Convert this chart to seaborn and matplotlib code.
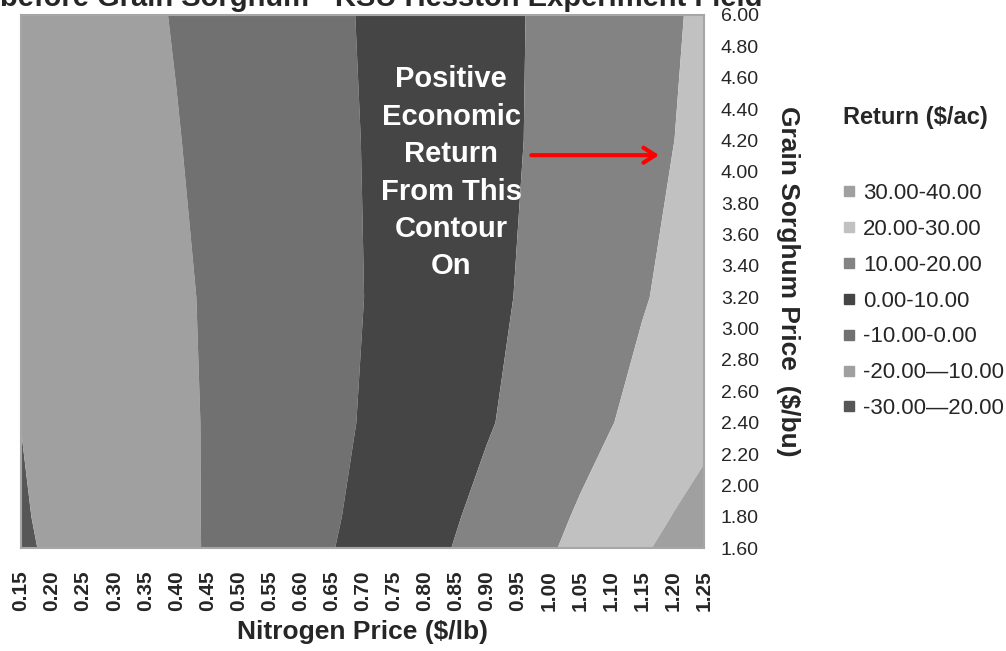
import numpy as np
import seaborn as sns
import matplotlib.pyplot as plt
from matplotlib.lines import Line2D

# category axes (Excel surface chart -> evenly spaced categories)
n_prices = ["0.15", "0.20", "0.25", "0.30", "0.35", "0.40", "0.45", "0.50", "0.55",
            "0.60", "0.65", "0.70", "0.75", "0.80", "0.85", "0.90", "0.95", "1.00",
            "1.05", "1.10", "1.15", "1.20", "1.25"]
sorghum_prices = ["1.60", "1.80", "2.00", "2.20", "2.40", "2.60", "2.80", "3.00", "3.20",
                  "3.40", "3.60", "3.80", "4.00", "4.20", "4.40", "4.60", "4.80", "6.00"]

# return ($/ac) at a few sorghum price rows
z_rows = ["1.60", "1.80", "2.40", "3.20", "4.20", "6.00"]
z_160 = [-21.0, -19.1, -17.2, -15.3, -13.4, -11.6, -9.6, -7.3, -5.0, -2.6, -0.3, 2.3,
         5.0, 7.6, 10.4, 13.3, 16.2, 19.1, 22.3, 25.6, 28.9, 32.4, 35.9]
z_180 = [-20.6, -18.8, -17.0, -15.1, -13.3, -11.5, -9.6, -7.4, -5.2, -3.0, -0.8, 1.6,
         4.3, 6.9, 9.5, 12.3, 15.1, 18.0, 20.9, 24.0, 27.2, 30.2, 32.8]
z_240 = [-19.95, -18.3, -16.5, -14.8, -13.1, -11.4, -9.6, -7.6, -5.6, -3.6, -1.6, 0.4,
         2.7, 4.9, 7.1, 9.3, 11.8, 14.5, 17.1, 19.7, 22.5, 25.3, 27.8]
z_320 = [-19.1, -17.5, -15.9, -14.3, -12.7, -11.1, -9.4, -7.5, -5.7, -3.8, -2.0, -0.1,
         1.9, 4.0, 6.1, 8.2, 10.3, 12.6, 14.8, 17.1, 19.4, 21.8, 24.3]
z_420 = [-17.8, -16.3, -14.8, -13.3, -11.8, -10.3, -8.6, -6.9, -5.2, -3.4, -1.7, 0.1,
         2.0, 3.9, 5.8, 7.7, 9.6, 11.7, 13.7, 15.8, 17.9, 19.9, 22.1]
z_600 = [-16.9, -15.4, -14.0, -12.5, -11.1, -9.6, -7.9, -6.2, -4.6, -2.9, -1.3, 0.4,
         2.3, 4.1, 5.9, 7.7, 9.5, 11.5, 13.4, 15.4, 17.4, 19.3, 21.3]

levels = [-30, -20, -10, 0, 10, 20, 30, 40]
band_labels = ["-30.00\u201420.00", "-20.00\u201410.00", "-10.00-0.00", "0.00-10.00",
               "10.00-20.00", "20.00-30.00", "30.00-40.00"]
band_colors = ["#565656", "#a0a0a0", "#717171", "#454545", "#838383", "#c1c1c1", "#a0a0a0"]

sns.set_theme(style="white")
plt.rcParams['font.family'] = ['Liberation Sans', 'DejaVu Sans']

fig = plt.figure(figsize=(10.06, 6.51), dpi=100)
ax = fig.add_axes([0.0209, 0.158, 0.679, 0.819])

x = np.arange(len(n_prices))
y = np.array([sorghum_prices.index(p) for p in z_rows])
Z = np.array([z_160, z_180, z_240, z_320, z_420, z_600])
ax.contourf(x, y, Z, levels=levels, colors=band_colors, antialiased=True)

ax.set_xlim(0, len(n_prices) - 1)
ax.set_ylim(0, len(sorghum_prices) - 1)
ax.set_xticks(x)
ax.set_xticklabels(n_prices, rotation=90, fontsize=15, fontweight='bold')
ax.set_yticks(np.arange(len(sorghum_prices)))
ax.set_yticklabels(sorghum_prices, fontsize=14)
ax.yaxis.tick_right()
ax.tick_params(axis='x', length=0, pad=16)
ax.tick_params(axis='y', length=0, pad=12)
for s in ax.spines.values():
    s.set_color('#a6a6a6')
    s.set_linewidth(1.5)

ax.set_xlabel("Nitrogen Price ($/lb)", fontsize=19, fontweight='bold', labelpad=6)
ax.yaxis.set_label_position('right')
ax.set_ylabel("Grain Sorghum Price  ($/bu)", fontsize=19, fontweight='bold',
              rotation=-90, va='bottom', labelpad=12)

ax.text(0.63, 0.704, "Positive\nEconomic\nReturn\nFrom This\nContour\nOn",
        transform=ax.transAxes, ha='center', va='center', color='white',
        fontsize=21, fontweight='bold', linespacing=1.43)
ax.annotate("", xy=(0.938, 0.737), xytext=(0.743, 0.737),
            xycoords='axes fraction', textcoords='axes fraction',
            arrowprops=dict(arrowstyle='->,head_length=0.7,head_width=0.45',
                            color='red', lw=3))

# title is cut off at the top of the original image
fig.text(0.0, 0.991, "before Grain Sorghum - KSU Hesston Experiment Field",
         ha='left', va='baseline', fontsize=21, fontweight='bold')

fig.text(0.838, 0.82, "Return ($/ac)", ha='left', va='center',
         fontsize=17, fontweight='bold')
handles = [Line2D([], [], marker='s', linestyle='none', markersize=7,
                  markerfacecolor=c, markeredgecolor=c)
           for c in band_colors[::-1]]
fig.legend(handles, band_labels[::-1], loc='upper left',
           bbox_to_anchor=(0.836, 0.719), frameon=False, fontsize=16,
           handlelength=0.7, handletextpad=0.3, labelspacing=0.67,
           borderpad=0, borderaxespad=0)

plt.savefig("out.png", dpi=100)
